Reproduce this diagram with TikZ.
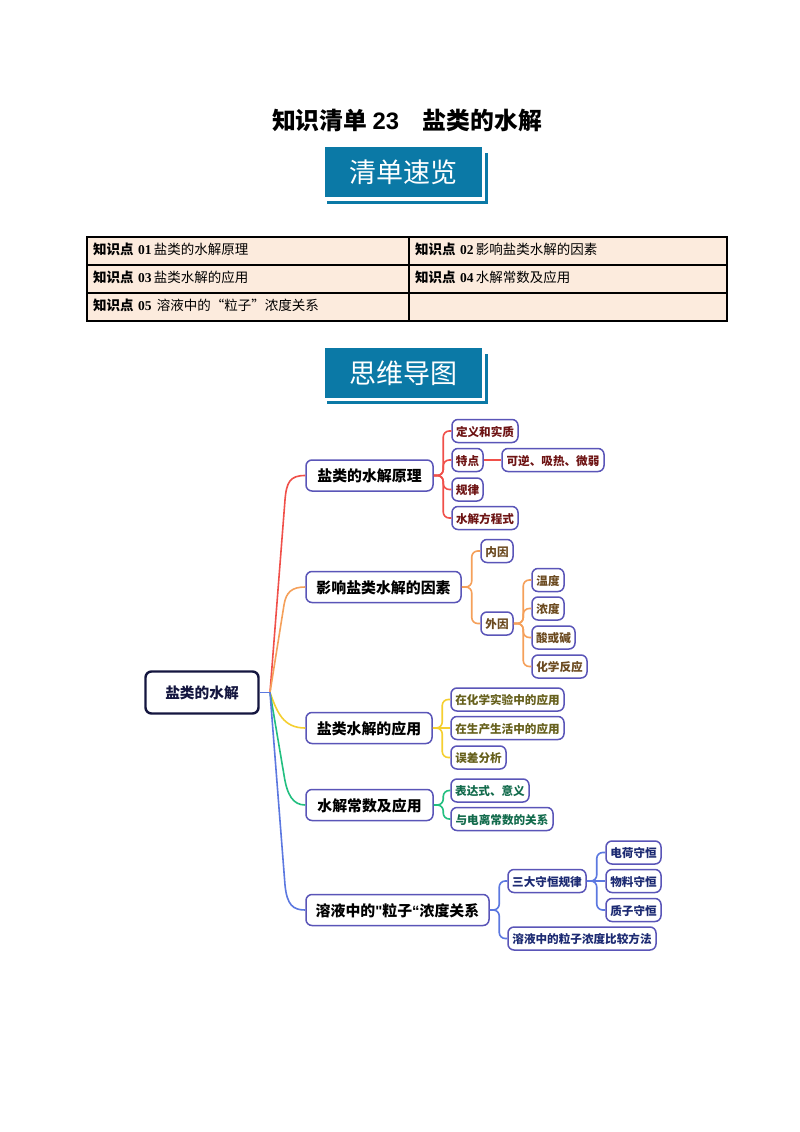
\documentclass[tikz,border=0pt]{standalone}
\usepackage{fontspec}
\setmainfont{Noto Sans CJK SC}
\newfontfamily\arialfont{Liberation Sans}
\newfontfamily\timesfont{Liberation Serif}
\newcommand{\fsize}[1]{\fontsize{#1}{#1}\selectfont}
\newcommand{\zsd}[1]{\textbf{知识点}{\timesfont\bfseries\,\,#1\,}}
\definecolor{banner}{HTML}{0B79A6}
\definecolor{cellfill}{HTML}{FCEBDD}
\definecolor{mapborder}{HTML}{5A55B8}
\definecolor{rootnavy}{HTML}{14163F}
\definecolor{wine}{HTML}{6E1414}
\definecolor{umber}{HTML}{6B4A20}
\definecolor{olive}{HTML}{66601C}
\definecolor{pine}{HTML}{126B4C}
\definecolor{navy}{HTML}{1C2A72}
\definecolor{linered}{HTML}{F0504A}
\definecolor{lineorange}{HTML}{F5A05A}
\definecolor{lineyellow}{HTML}{F5CF30}
\definecolor{linegreen}{HTML}{22BF80}
\definecolor{lineblue}{HTML}{5C78E0}
\tikzset{
	rootbox/.style={draw=rootnavy, line width=2.4pt, rounded corners=6pt, fill=white, text=rootnavy, font=\fsize{14.7}\bfseries, minimum width=113pt, minimum height=42pt, inner sep=0pt, text height=16pt, text depth=3.4pt},
	topicbox/.style={draw=mapborder, line width=1.5pt, rounded corners=6pt, fill=white, font=\fsize{14.9}\bfseries, minimum height=31pt, inner sep=0pt, text height=16pt, text depth=3.4pt},
	leafbox/.style={draw=mapborder, line width=1.5pt, rounded corners=6pt, fill=white, font=\fsize{11.6}\bfseries, minimum height=23pt, inner sep=0pt, text height=13pt, text depth=3pt},
	branch/.style={line width=1.6pt, rounded corners=6pt},
	rootline/.style={line width=1.6pt},
	cellbox/.style={draw=black, line width=1.8pt, fill=cellfill},
	celltext/.style={anchor=west, inner sep=0pt, font=\fsize{13.5}},
}
\begin{document}
\begin{tikzpicture}[x=1pt,y=-1pt]
	\useasboundingbox (0,0) rectangle (800,1132);
	\fill[white] (0,0) rectangle (800,1132);
	%Title
	\node[font=\fsize{23.8}\bfseries, inner sep=0pt] (title) at (407,120) {知识清单 {\arialfont 23}　盐类的水解};
	%Banners
	\fill[banner] (327,153) rectangle (488,204);
	\fill[white] (325,147) rectangle (485,201);
	\node[fill=banner, text=white, font=\fsize{27}, minimum width=157pt, minimum height=50pt, inner sep=0pt] (qingdan) at (403.5,172) {清单速览};
	\fill[banner] (327,354) rectangle (488,404);
	\fill[white] (325,348) rectangle (485,401);
	\node[fill=banner, text=white, font=\fsize{27}, minimum width=157pt, minimum height=50pt, inner sep=0pt] (siwei) at (403.5,373) {思维导图};
	%Table
	\draw[cellbox] (87,237) rectangle (409,265);
	\draw[cellbox] (409,237) rectangle (727,265);
	\draw[cellbox] (87,265) rectangle (409,293);
	\draw[cellbox] (409,265) rectangle (727,293);
	\draw[cellbox] (87,293) rectangle (409,321);
	\draw[cellbox] (409,293) rectangle (727,321);
	\node[celltext] (zsd1) at (93,249) {\zsd{01}盐类的水解原理};
	\node[celltext] (zsd2) at (415,249) {\zsd{02}影响盐类水解的因素};
	\node[celltext] (zsd3) at (93,277) {\zsd{03}盐类水解的应用};
	\node[celltext] (zsd4) at (415,277) {\zsd{04}水解常数及应用};
	\node[celltext] (zsd5) at (93,305) {\zsd{05} 溶液中的“粒子”浓度关系};
	%Root and topics
	\node[rootbox] (root) at (202,692.5) {盐类的水解};
	\coordinate (hub) at (270,692.5);
	\node[topicbox, minimum width=127pt] (yuanli) at (369.5,475.5) {盐类的水解原理};
	\node[topicbox, minimum width=155pt] (yinsu) at (383.5,587) {影响盐类水解的因素};
	\node[topicbox, minimum width=126pt] (yingyong) at (369,728) {盐类水解的应用};
	\node[topicbox, minimum width=127pt] (changshu) at (369.5,805) {水解常数及应用};
	\node[topicbox, minimum width=183pt] (lizi) at (397.5,910) {溶液中的{\arialfont "}粒子{\arialfont “}浓度关系};
	%Leaves, red
	\node[leafbox, text=wine, minimum width=66pt] (dingyi) at (485,431) {定义和实质};
	\node[leafbox, text=wine, minimum width=31pt] (tedian) at (467.5,460) {特点};
	\node[leafbox, text=wine, minimum width=102pt] (kexiang) at (553,460) {可逆、吸热、微弱};
	\node[leafbox, text=wine, minimum width=31pt] (guilv) at (467.5,489.5) {规律};
	\node[leafbox, text=wine, minimum width=66pt] (fangcheng) at (485,518) {水解方程式};
	%Leaves, orange
	\node[leafbox, text=umber, minimum width=32pt] (neiyin) at (497,551) {内因};
	\node[leafbox, text=umber, minimum width=32pt] (waiyin) at (497,623.5) {外因};
	\node[leafbox, text=umber, minimum width=32pt] (wendu) at (548,580) {温度};
	\node[leafbox, text=umber, minimum width=32pt] (nongdu) at (548,608.5) {浓度};
	\node[leafbox, text=umber, minimum width=43pt] (suanjian) at (553.5,637.5) {酸或碱};
	\node[leafbox, text=umber, minimum width=55pt] (fanying) at (559.5,666.5) {化学反应};
	%Leaves, yellow
	\node[leafbox, text=olive, minimum width=113pt] (shiyan) at (507.5,699.5) {在化学实验中的应用};
	\node[leafbox, text=olive, minimum width=113pt] (shenghuo) at (507.5,728) {在生产生活中的应用};
	\node[leafbox, text=olive, minimum width=55pt] (wucha) at (478.5,757.5) {误差分析};
	%Leaves, green
	\node[leafbox, text=pine, minimum width=78pt] (biaoda) at (490,790.5) {表达式、意义};
	\node[leafbox, text=pine, minimum width=102pt] (dianli) at (502,819) {与电离常数的关系};
	%Leaves, blue
	\node[leafbox, text=navy, minimum width=78pt] (shouheng) at (547,881) {三大守恒规律};
	\node[leafbox, text=navy, minimum width=148pt] (bijiao) at (582,938.5) {溶液中的粒子浓度比较方法};
	\node[leafbox, text=navy, minimum width=55pt] (dianhe) at (633.5,852.5) {电荷守恒};
	\node[leafbox, text=navy, minimum width=55pt] (wuliao) at (633.5,881) {物料守恒};
	\node[leafbox, text=navy, minimum width=55pt] (zhizi) at (633.5,910) {质子守恒};
	%Branches from root
	\draw[rootline, linered] (hub) -- (285,500) .. controls (286.5,482) and (290,475.5) .. (yuanli.west);
	\draw[rootline, lineorange] (hub) -- (284,605) .. controls (286,592) and (292,587) .. (yinsu.west);
	\draw[rootline, lineyellow] (hub) .. controls (277,712) and (283,728) .. (yingyong.west);
	\draw[rootline, linegreen] (hub) -- (284,775) .. controls (287,795) and (293,805) .. (changshu.west);
	\draw[rootline, lineblue] (hub) -- (285,885) .. controls (287,905) and (293,910) .. (lizi.west);
	\draw[rootline, lineblue] (root.east) -- (hub);
	%Branches, red
	\foreach \leaf in {dingyi,tedian,guilv,fangcheng}
		\draw[branch, linered] (yuanli.east) -- ++(9.5,0) |- (\leaf.west);
	\draw[branch, linered] (tedian.east) -- (kexiang.west);
	%Branches, orange
	\foreach \leaf in {neiyin,waiyin}
		\draw[branch, lineorange] (yinsu.east) -- ++(10,0) |- (\leaf.west);
	\foreach \leaf in {wendu,nongdu,suanjian,fanying}
		\draw[branch, lineorange] (waiyin.east) -- ++(9.5,0) |- (\leaf.west);
	%Branches, yellow
	\foreach \leaf in {shiyan,wucha}
		\draw[branch, lineyellow] (yingyong.east) -- ++(9.5,0) |- (\leaf.west);
	\draw[branch, lineyellow] (yingyong.east) -- (shenghuo.west);
	%Branches, green
	\foreach \leaf in {biaoda,dianli}
		\draw[branch, linegreen] (changshu.east) -- ++(9.5,0) |- (\leaf.west);
	%Branches, blue
	\foreach \leaf in {shouheng,bijiao}
		\draw[branch, lineblue] (lizi.east) -- ++(9.5,0) |- (\leaf.west);
	\foreach \leaf in {dianhe,zhizi}
		\draw[branch, lineblue] (shouheng.east) -- ++(10,0) |- (\leaf.west);
	\draw[branch, lineblue] (shouheng.east) -- (wuliao.west);
\end{tikzpicture}
\end{document}
